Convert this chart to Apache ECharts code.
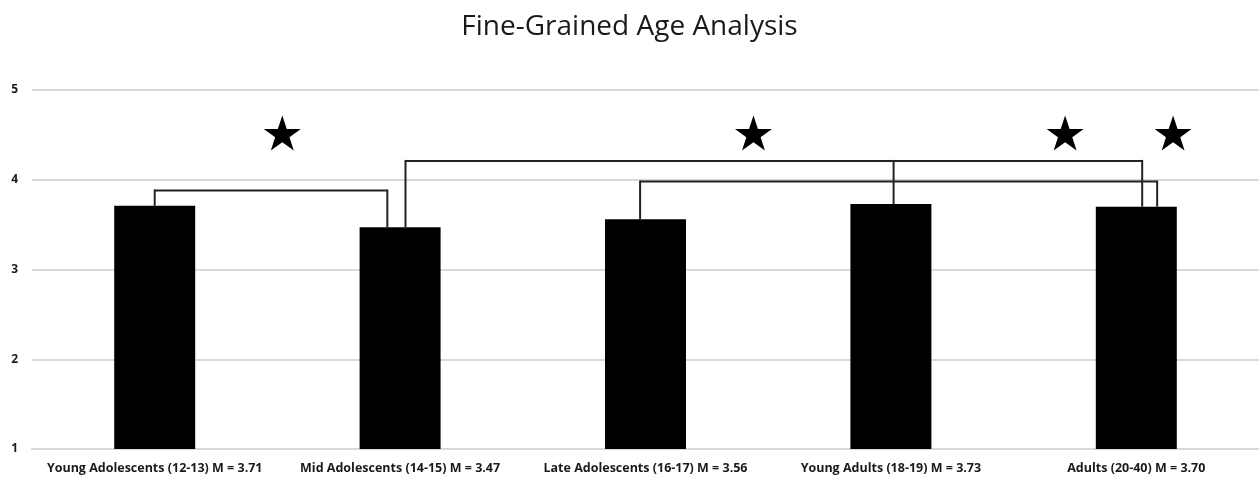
<!DOCTYPE html>
<html>
<head>
<meta charset="utf-8">
<script src="https://cdn.jsdelivr.net/npm/echarts@6/dist/echarts.min.js"></script>
<style>html,body{margin:0;padding:0;background:#fff}#c{width:1259px;height:482px}</style>
</head>
<body>
<div id="c"></div>
<script>
const titleText = 'Fine-Grained Age Analysis';
const categories = [
  'Young Adolescents (12-13) M = 3.71',
  'Mid Adolescents (14-15) M = 3.47',
  'Late Adolescents (16-17) M = 3.56',
  'Young Adults (18-19) M = 3.73',
  'Adults (20-40) M = 3.70'
];
const means = [3.71, 3.47, 3.56, 3.73, 3.70];
const yTicks = [1, 2, 3, 4, 5];
// significance brackets: level (y value) and legs as [category index, offset in category widths]
const bracketLevels = [3.88, 4.21, 3.98];
const bracketLegs = [
  [[0, 0.0], [1, -0.052]],
  [[1, 0.022], [3, 0.011], [4, 0.024]],
  [[2, -0.022], [4, 0.085]]
];
// star markers: x in category units, y in value units
const starX = [0.52, 2.44, 3.71, 4.15];
const starY = [4.52, 4.52, 4.52, 4.52];

const starPath = 'path://M50,0 L61.8,35.3 L98.9,35.3 L68.9,57.1 L80.3,92.7 L50,70.9 L19.7,92.7 L31.1,57.1 L1.1,35.3 L38.2,35.3 Z';

const chart = echarts.init(document.getElementById('c'), null, {renderer: 'canvas'});
const bracketData = bracketLevels.map((lvl, i) => ({value: [i, lvl]}));

chart.setOption({
  animation: false,
  title: {
    text: titleText, left: 'center', top: 8,
    textStyle: {fontFamily: 'Open Sans', fontSize: 28, fontWeight: 'normal', color: '#1a1a1a'}
  },
  grid: {left: 32, right: -2, top: 90, bottom: 33, containLabel: false},
  xAxis: [{
    type: 'category', data: categories,
    axisLine: {show: true, lineStyle: {color: '#d9d9d9', width: 2}},
    axisTick: {show: false},
    axisLabel: {interval: 0, margin: 13, fontFamily: 'Open Sans', fontWeight: 'bold', fontSize: 12.5, color: '#1a1a1a'}
  }, {
    type: 'value', min: -0.5, max: 4.5, show: false
  }],
  yAxis: {
    type: 'value', min: yTicks[0], max: yTicks[yTicks.length - 1], interval: 1,
    axisLine: {show: false}, axisTick: {show: false},
    splitLine: {lineStyle: {color: '#d9d9d9', width: 2}},
    axisLabel: {margin: 14, fontFamily: 'Open Sans', fontWeight: 'bold', fontSize: 12, color: '#1a1a1a'}
  },
  series: [{
    type: 'bar', data: means, barWidth: '33%', xAxisIndex: 0,
    itemStyle: {color: '#000'}
  }, {
    type: 'custom', xAxisIndex: 1, data: bracketData, z: 5,
    renderItem: function (params, api) {
      const idx = api.value(0);
      const lvl = api.value(1);
      const legs = bracketLegs[idx];
      const children = [];
      const topY = api.coord([0, lvl])[1];
      const xs = legs.map(l => api.coord([l[0] + l[1], lvl])[0]);
      children.push({type: 'line', shape: {x1: Math.min(...xs), y1: topY, x2: Math.max(...xs), y2: topY},
        style: {stroke: '#222', lineWidth: 2}});
      legs.forEach((l, k) => {
        const bottom = api.coord([l[0], means[l[0]]])[1];
        children.push({type: 'line', shape: {x1: xs[k], y1: topY - 1, x2: xs[k], y2: bottom},
          style: {stroke: '#222', lineWidth: 2}});
      });
      return {type: 'group', children: children};
    }
  }, {
    type: 'scatter', xAxisIndex: 1, symbol: starPath, symbolSize: [37, 35],
    itemStyle: {color: '#000', opacity: 1},
    data: starX.map((x, i) => [x, starY[i]])
  }]
});
</script>
</body>
</html>
